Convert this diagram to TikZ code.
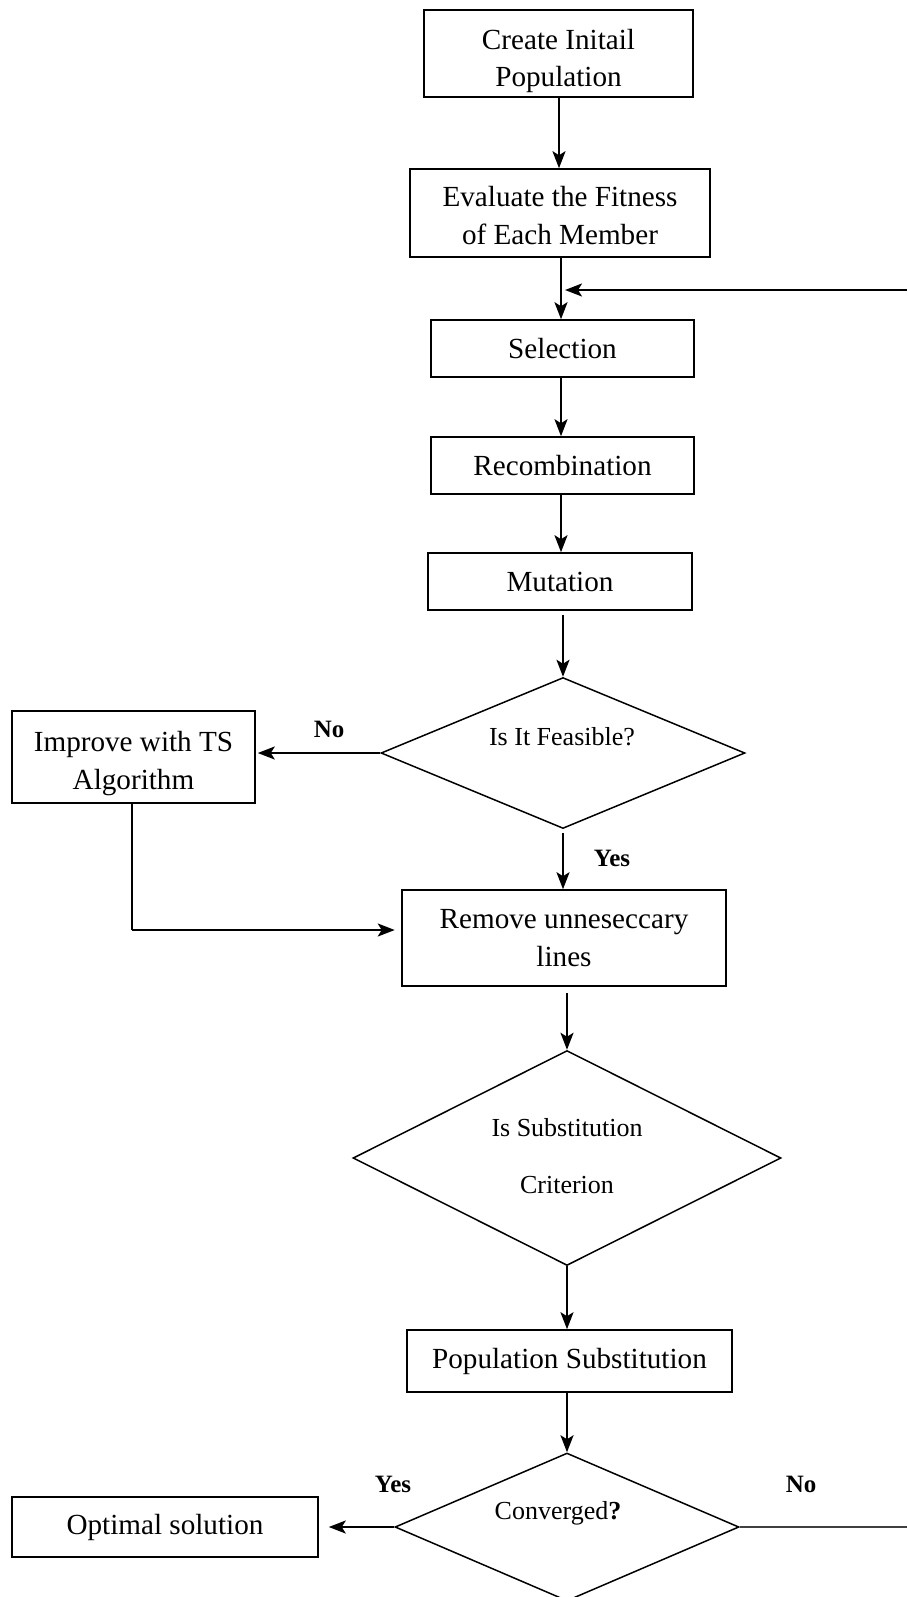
\documentclass[tikz,border=0pt]{standalone}
\usepackage{fontspec}
\setmainfont{Liberation Serif}
\usetikzlibrary{arrows.meta,shapes.geometric}
\newcommand{\lowertext}[2]{\raisebox{-#1}[\height][\depth]{\begin{tabular}{@{}c@{}}#2\end{tabular}}}
\tikzset{
  box/.style={draw=black, line width=0.9pt, rectangle, inner sep=0pt, align=center,
    font=\fontsize{16.6}{21.5}\selectfont},
  dia/.style={draw=black, line width=0.85pt, diamond, inner sep=0pt},
  dtext/.style={inner sep=0pt, align=center, font=\fontsize{14.8}{32}\selectfont},
  lbl/.style={inner sep=0pt, font=\fontsize{14.2}{17}\selectfont\bfseries},
  arr/.style={draw=black, line width=1.3pt, -{Stealth[length=0.34cm,width=0.26cm,inset=0.08cm]}},
  thinln/.style={draw=black!75, line width=0.7pt},
}
\begin{document}
\begin{tikzpicture}[x=0.02cm,y=-0.02cm]
\useasboundingbox[fill=white] (0,0) rectangle (907,1597);
% boxes
\node[box, minimum width=5.38cm, minimum height=1.74cm] (b1) at (558.5,53.5) {\lowertext{0.14cm}{Create Initail\\Population}};
\node[box, minimum width=6.0cm, minimum height=1.76cm] (b2) at (560,213) {\lowertext{0.1cm}{Evaluate the Fitness\\of Each Member}};
\node[box, minimum width=5.26cm, minimum height=1.14cm] (b3) at (562.5,348.5) {Selection};
\node[box, minimum width=5.26cm, minimum height=1.14cm] (b4) at (562.5,465.5) {Recombination};
\node[box, minimum width=5.28cm, minimum height=1.14cm] (b5) at (560,581.5) {Mutation};
\node[dia, minimum width=7.28cm, minimum height=3.02cm] (d1) at (563,753) {};
\node[dtext] (d1t) at (562,737) {Is It Feasible?};
\node[box, minimum width=4.86cm, minimum height=1.84cm] (b6) at (133.5,757) {\lowertext{0.12cm}{Improve with TS\\Algorithm}};
\node[box, minimum width=6.48cm, minimum height=1.92cm] (b7) at (564,938) {Remove unneseccary\\lines};
\node[dia, minimum width=8.56cm, minimum height=4.3cm] (d2) at (567,1158) {};
\node[dtext] (d2t) at (567,1156) {Is Substitution\\Criterion};
\node[box, minimum width=6.5cm, minimum height=1.24cm] (b8) at (569.5,1361) {Population Substitution};
\node[dia, minimum width=6.88cm, minimum height=2.96cm] (d3) at (567,1527) {};
\node[dtext] (d3t) at (558,1513) {Converged\textbf{?}};
\node[box, minimum width=6.12cm, minimum height=1.2cm] (b9) at (165,1527) {Optimal solution};
% labels
\node[lbl] (lno1) at (329,729) {No};
\node[lbl] (lyes1) at (612,858) {Yes};
\node[lbl] (lyes2) at (393,1484) {Yes};
\node[lbl] (lno2) at (801,1484) {No};
% coordinates
\coordinate (fbend) at (565,290);
\coordinate (fbtop) at (907,290);
\coordinate (fbbot) at (907,1527);
\coordinate (cb6) at (132,930);
% connectors
\draw[arr] (559,97) coordinate (s1) -- (s1 |- b2.north);
\draw[arr] (561,257) coordinate (s2) -- (s2 |- b3.north);
\draw[arr] (fbtop) -- (fbend);
\draw[arr] (561,377) coordinate (s3) -- (s3 |- b4.north);
\draw[arr] (561,494) coordinate (s4) -- (s4 |- b5.north);
\draw[arr] (563,615) coordinate (s5) -- (d1.north);
\draw[arr] (d1.west) -- ([xshift=0.04cm]d1.west -| b6.east);
\draw[arr] (563,833) coordinate (s6) -- (s6 |- b7.north);
\draw[line width=0.7pt, draw=black] (b6.south -| cb6) -- (cb6);
\draw[arr, shorten >=0.13cm] (cb6) -- (b7.west |- cb6);
\draw[arr] (567,993) coordinate (s7) -- (d2.north);
\draw[arr] (d2.south) -- (d2.south |- b8.north);
\draw[arr] (567,1392) coordinate (s8) -- (d3.north);
\draw[arr, shorten >=0.2cm] (d3.west) -- (b9.east);
\draw[thinln] (d3.east) -- (fbbot);
\end{tikzpicture}
\end{document}
